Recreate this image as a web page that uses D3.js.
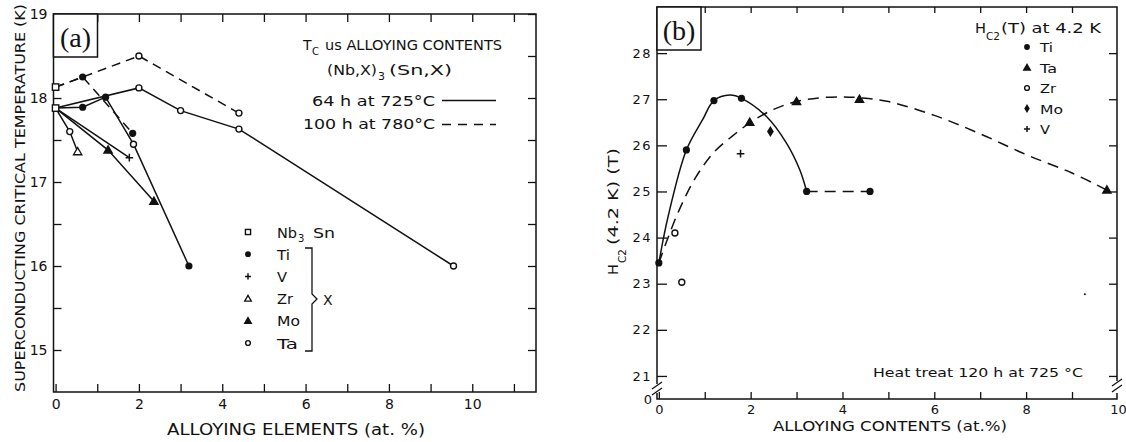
<!DOCTYPE html>
<html><head><meta charset="utf-8">
<script src="https://cdn.jsdelivr.net/npm/d3@7"></script>
<style>
html,body{margin:0;padding:0;background:#fff;}
svg{display:block;}
text{font-family:"DejaVu Sans",sans-serif;fill:#111;}
</style></head><body>
<svg id="fig" width="1126" height="442"></svg>
<script>
// ---------------- Panel (a): Tc vs alloying content ----------------
// Nb3Sn reference points (64 h / 725 C and 100 h / 780 C)
const aNb3SnX = [0, 0];
const aNb3SnY = [17.88, 18.13];

// 64 h at 725 C (solid)
const aTaSolidX = [0, 2.0, 3.0, 4.4, 9.55];
const aTaSolidY = [17.88, 18.12, 17.85, 17.63, 16.0];
const aTaSolidMk = ["none", "ring", "ring", "ring", "ring"];

const aTiSolidX = [0, 0.65, 1.2, 1.87, 3.2];
const aTiSolidY = [17.88, 17.89, 18.01, 17.45, 16.0];
const aTiSolidMk = ["none", "dot", "dot", "ring", "dot"];

const aVSolidX = [0, 1.77];
const aVSolidY = [17.88, 17.29];
const aVSolidMk = ["none", "plus"];

const aMoSolidX = [0, 1.26, 2.36];
const aMoSolidY = [17.88, 17.38, 16.77];
const aMoSolidMk = ["none", "tri", "tri"];

const aZrSolidX = [0, 0.34, 0.53];
const aZrSolidY = [17.88, 17.6, 17.36];
const aZrSolidMk = ["none", "ring", "otri"];

// 100 h at 780 C (dashed)
const aTaDashX = [0, 2.0, 4.4];
const aTaDashY = [18.13, 18.5, 17.82];
const aTaDashMk = ["none", "ring", "ring"];

const aTiDashX = [0, 0.65, 1.85];
const aTiDashY = [18.13, 18.25, 17.58];
const aTiDashMk = ["none", "dot", "dot"];

const aXTicks = [0, 1, 2, 3, 4, 5, 6, 7, 8, 9, 10, 11];
const aXLabels = [0, 2, 4, 6, 8, 10];
const aYTicks = [15, 15.5, 16, 16.5, 17, 17.5, 18, 18.5, 19];
const aYLabels = [15, 16, 17, 18, 19];

const aLegendNames = ["Nb3Sn", "Ti", "V", "Zr", "Mo", "Ta"];
const aLegendMk = ["square", "dot", "plus", "otri", "tri", "ring"];

// ---------------- Panel (b): Hc2 at 4.2 K ----------------
const bTiX = [0, 0.6, 1.2, 1.8, 3.22, 4.6];
const bTiY = [23.45, 25.9, 26.97, 27.02, 25.0, 25.0];
const bTaX = [1.98, 3.0, 4.37, 9.76];
const bTaY = [26.5, 26.95, 27.0, 25.03];
const bZrX = [0.35, 0.5];
const bZrY = [24.1, 23.03];
const bMoX = [2.43];
const bMoY = [26.3];
const bVX = [1.78];
const bVY = [25.82];
const bSpeckX = [9.28];
const bSpeckY = [22.77];

// hand-drawn trend curves
const bTiCurveX = [0, 0.2, 0.6, 0.95, 1.2, 1.55, 1.8, 2.35, 2.78, 3.07, 3.22];
const bTiCurveY = [23.45, 24.45, 25.9, 26.55, 26.97, 27.09, 27.02, 26.62, 26.05, 25.47, 25.0];
const bTiTailX = [3.22, 4.6];
const bTiTailY = [25.0, 25.0];
const bTaCurveX = [0, 0.4, 0.8, 1.2, 1.6, 2.0, 2.5, 3.0, 3.5, 4.0, 4.4, 5.0, 6.0, 7.0, 8.0, 9.0, 9.76];
const bTaCurveY = [23.45, 24.5, 25.3, 25.85, 26.2, 26.5, 26.78, 26.95, 27.03, 27.05, 27.03, 26.95, 26.65, 26.25, 25.8, 25.4, 25.03];

const bXTicks = [0, 1, 2, 3, 4, 5, 6, 7, 8, 9];
const bXLabels = [0, 2, 4, 6, 8, 10];
const bYTicks = [21, 22, 23, 24, 25, 26, 27, 28];

const bLegendNames = ["Ti", "Ta", "Zr", "Mo", "V"];
const bLegendMk = ["dot", "tri", "ring", "diamond", "plus"];

// ---------------- drawing ----------------
const svg = d3.select("#fig");
const INK = "#111";

function marker(g, type, cx, cy, s) {
  s = s || 1;
  if (type === "none") return;
  if (type === "dot") {
    g.append("circle").attr("cx", cx).attr("cy", cy).attr("r", 3.6 * s).attr("fill", INK);
  } else if (type === "ring") {
    g.append("circle").attr("cx", cx).attr("cy", cy).attr("r", 3.0 * s)
      .attr("fill", "#fff").attr("stroke", INK).attr("stroke-width", 1.4);
  } else if (type === "square") {
    const h = 3.2 * s;
    g.append("rect").attr("x", cx - h).attr("y", cy - h).attr("width", 2 * h).attr("height", 2 * h)
      .attr("fill", "#fff").attr("stroke", INK).attr("stroke-width", 1.4);
  } else if (type === "plus") {
    const h = 3.8 * s;
    g.append("path").attr("d", `M${cx - h},${cy}H${cx + h}M${cx},${cy - h}V${cy + h}`)
      .attr("stroke", INK).attr("stroke-width", 1.5);
  } else if (type === "tri" || type === "otri") {
    g.append("path").attr("transform", `translate(${cx},${cy + 0.6})`)
      .attr("d", d3.symbol(d3.symbolTriangle, 30 * s * s)())
      .attr("fill", type === "tri" ? INK : "#fff").attr("stroke", INK).attr("stroke-width", 1.3);
  } else if (type === "diamond") {
    const w = 3.4 * s, h = 5.5 * s;
    g.append("path").attr("d", `M${cx},${cy - h}L${cx + w},${cy}L${cx},${cy + h}L${cx - w},${cy}Z`).attr("fill", INK);
  }
}

function series(g, xs, ys, sx, sy, dash, curve) {
  const pts = xs.map((x, i) => [x, ys[i]]);
  const line = d3.line().x(d => sx(d[0])).y(d => sy(d[1])).curve(curve || d3.curveLinear);
  g.append("path").attr("d", line(pts)).attr("fill", "none").attr("stroke", INK)
    .attr("stroke-width", 1.5).attr("stroke-dasharray", dash || null);
}

function marks(g, xs, ys, mk, sx, sy) {
  xs.forEach((x, i) => marker(g, Array.isArray(mk) ? mk[i] : mk, sx(x), sy(ys[i])));
}

function styleAxis(g) {
  g.select(".domain").remove();
  g.selectAll(".tick line").attr("stroke", INK).attr("stroke-width", 1.3);
  g.selectAll(".tick text").attr("fill", INK).style("font-family", '"DejaVu Sans",sans-serif');
}

// fixed-width text helper
function label(g, x, y, str, size, width, anchor) {
  const t = g.append("text").attr("x", x).attr("y", y).style("font-size", size + "px").text(str);
  if (width) t.attr("textLength", width).attr("lengthAdjust", "spacingAndGlyphs");
  if (anchor) t.attr("text-anchor", anchor);
  return t;
}

// ---- Panel (a) ----
const xA = d3.scaleLinear().domain([-0.05, 11.53]).range([53.5, 536]);
const yA = d3.scaleLinear().domain([14.5, 19]).range([392, 14]);
const gA = svg.append("g");

gA.append("rect").attr("x", 53.5).attr("y", 14).attr("width", 536 - 53.5).attr("height", 392 - 14)
  .attr("fill", "none").attr("stroke", INK).attr("stroke-width", 1.5);

gA.append("g").attr("transform", "translate(53.5,0)")
  .call(d3.axisLeft(yA).tickValues(aYTicks).tickSizeInner(-8).tickSizeOuter(0).tickPadding(6)
    .tickFormat(d => aYLabels.includes(d) ? d : ""))
  .call(styleAxis).selectAll("text").style("font-size", "14px");
gA.append("g").attr("transform", "translate(536,0)")
  .call(d3.axisRight(yA).tickValues(aYTicks).tickSizeInner(-8).tickSizeOuter(0).tickFormat(""))
  .call(styleAxis);
gA.append("g").attr("transform", "translate(0,392)")
  .call(d3.axisBottom(xA).tickValues(aXTicks).tickSizeInner(-8).tickSizeOuter(0).tickPadding(7)
    .tickFormat(d => aXLabels.includes(d) ? d : ""))
  .call(styleAxis).selectAll("text").style("font-size", "14px");
gA.append("g").attr("transform", "translate(0,14)")
  .call(d3.axisTop(xA).tickValues(aXTicks.slice(1)).tickSizeInner(-8).tickSizeOuter(0).tickFormat(""))
  .call(styleAxis);

series(gA, aTaSolidX, aTaSolidY, xA, yA);
series(gA, aTiSolidX, aTiSolidY, xA, yA);
series(gA, aVSolidX, aVSolidY, xA, yA);
series(gA, aMoSolidX, aMoSolidY, xA, yA);
series(gA, aZrSolidX, aZrSolidY, xA, yA);
series(gA, aTaDashX, aTaDashY, xA, yA, "9,6");
series(gA, aTiDashX, aTiDashY, xA, yA, "9,6");

marks(gA, aTaSolidX, aTaSolidY, aTaSolidMk, xA, yA);
marks(gA, aTiSolidX, aTiSolidY, aTiSolidMk, xA, yA);
marks(gA, aVSolidX, aVSolidY, aVSolidMk, xA, yA);
marks(gA, aMoSolidX, aMoSolidY, aMoSolidMk, xA, yA);
marks(gA, aZrSolidX, aZrSolidY, aZrSolidMk, xA, yA);
marks(gA, aTaDashX, aTaDashY, aTaDashMk, xA, yA);
marks(gA, aTiDashX, aTiDashY, aTiDashMk, xA, yA);
marks(gA, aNb3SnX, aNb3SnY, "square", xA, yA);

// panel tag
gA.append("rect").attr("x", 53.5).attr("y", 14).attr("width", 44).attr("height", 43)
  .attr("fill", "#fff").attr("stroke", INK).attr("stroke-width", 1.5);
gA.append("text").attr("x", 75.5).attr("y", 47).attr("text-anchor", "middle")
  .style("font-family", '"Liberation Serif",serif').style("font-size", "28px").text("(a)");

// axis titles
gA.append("text").attr("transform", "translate(25,198) rotate(-90)").attr("text-anchor", "middle")
  .style("font-size", "14px").attr("textLength", 388).attr("lengthAdjust", "spacingAndGlyphs")
  .text("SUPERCONDUCTING CRITICAL TEMPERATURE (K)");
label(gA, 296, 435, "ALLOYING ELEMENTS (at. %)", 15, 258, "middle");

// heading block
label(gA, 303, 50, "T", 14);
label(gA, 312, 55, "C", 10);
label(gA, 325, 50, "us ALLOYING CONTENTS", 14, 177);
label(gA, 327, 75, "(Nb,X)", 14, 50);
label(gA, 378, 80, "3", 11);
label(gA, 389, 75, "(Sn,X)", 14, 63);

label(gA, 312, 106, "64 h at 725°C", 14, 123);
label(gA, 303, 129, "100 h at 780°C", 14, 132);
gA.append("path").attr("d", "M442,100.5H496").attr("stroke", INK).attr("stroke-width", 1.5);
gA.append("path").attr("d", "M442,124.5H496").attr("stroke", INK).attr("stroke-width", 1.5).attr("stroke-dasharray", "9,7");

// symbol key
const aRowY = d3.scalePoint().domain(aLegendNames).range([232, 343]);
const aKeyW = {Ti: 13, V: 10, Zr: 16, Mo: 23, Ta: 21};
aLegendNames.forEach((n, i) => {
  const y = aRowY(n);
  marker(gA, aLegendMk[i], 248, y, 0.8);
  if (n === "Nb3Sn") {
    label(gA, 277, y + 5.5, "Nb", 14, 20);
    label(gA, 298, y + 9.5, "3", 10);
    label(gA, 313, y + 5.5, "Sn", 14, 22);
  } else {
    label(gA, 277, y + 5.5, n, 14, aKeyW[n]);
  }
});
gA.append("path").attr("d", "M305,248H312V294L317,299L312,304V351H305")
  .attr("fill", "none").attr("stroke", INK).attr("stroke-width", 1.3);
label(gA, 323, 305, "X", 14);

// ---- Panel (b) ----
const xB = d3.scaleLinear().domain([-0.04, 9.98]).range([657, 1117]);
const yB = d3.scaleLinear().domain([20.5, 29]).range([399, 7]);
const gB = svg.append("g");

// frame with broken lower corners
gB.append("path").attr("d", "M657,384V7H1117V381").attr("fill", "none").attr("stroke", INK).attr("stroke-width", 1.5);
gB.append("path").attr("d", "M657,393V399H1117V393").attr("fill", "none").attr("stroke", INK).attr("stroke-width", 1.5);
gB.append("path").attr("d", "M652,389L662,382M652,395L662,388M1112,386L1122,379M1112,392L1122,385")
  .attr("stroke", INK).attr("stroke-width", 1.3);

gB.append("g").attr("transform", "translate(657,0)")
  .call(d3.axisLeft(yB).tickValues(bYTicks).tickSizeInner(-10).tickSizeOuter(0).tickPadding(5))
  .call(styleAxis).selectAll("text").style("font-size", "13px").style("letter-spacing", "1.5px");
gB.append("g").attr("transform", "translate(1117,0)")
  .call(d3.axisRight(yB).tickValues(bYTicks).tickSizeInner(-8).tickSizeOuter(0).tickFormat(""))
  .call(styleAxis);
gB.append("g").attr("transform", "translate(0,399)")
  .call(d3.axisBottom(xB).tickValues(bXTicks).tickSizeInner(-7).tickSizeOuter(0).tickPadding(6)
    .tickFormat(d => bXLabels.includes(d) ? d : ""))
  .call(styleAxis).selectAll("text").style("font-size", "13px");
gB.append("g").attr("transform", "translate(0,399)")
  .call(d3.axisBottom(xB).tickValues([10]).tickSize(0).tickPadding(6))
  .call(styleAxis).selectAll("text").style("font-size", "13px");
gB.append("g").attr("transform", "translate(0,7)")
  .call(d3.axisTop(xB).tickValues(bXTicks.slice(1)).tickSizeInner(-6).tickSizeOuter(0).tickFormat(""))
  .call(styleAxis);
label(gB, 648, 404, "0", 13, null, "middle");

series(gB, bTiCurveX, bTiCurveY, xB, yB, null, d3.curveCatmullRom);
series(gB, bTiTailX, bTiTailY, xB, yB, "11,7");
series(gB, bTaCurveX, bTaCurveY, xB, yB, "11,7", d3.curveCatmullRom);

marks(gB, bTiX, bTiY, "dot", xB, yB);
marks(gB, bTaX, bTaY, "tri", xB, yB);
marks(gB, bZrX, bZrY, "ring", xB, yB);
marks(gB, bMoX, bMoY, "diamond", xB, yB);
marks(gB, bVX, bVY, "plus", xB, yB);
bSpeckX.forEach((x, i) => gB.append("circle").attr("cx", xB(x)).attr("cy", yB(bSpeckY[i])).attr("r", 1).attr("fill", INK));

// panel tag
gB.append("rect").attr("x", 657).attr("y", 7).attr("width", 44).attr("height", 43)
  .attr("fill", "#fff").attr("stroke", INK).attr("stroke-width", 1.5);
gB.append("text").attr("x", 679).attr("y", 40).attr("text-anchor", "middle")
  .style("font-family", '"Liberation Serif",serif').style("font-size", "28px").text("(b)");

// axis titles
const yl = gB.append("g").attr("transform", "translate(618,212) rotate(-90)");
label(yl, -63, 0, "H", 14, 11);
label(yl, -51, 8, "C2", 11, 14);
label(yl, -33, 0, "(4.2 K) (T)", 14, 97);
label(gB, 890, 431, "ALLOYING CONTENTS (at.%)", 14, 234, "middle");
label(gB, 873, 377, "Heat treat 120 h at 725 °C", 13, 210);

// key
label(gB, 975, 33, "H", 14, 11);
label(gB, 986, 40, "C2", 11, 14);
label(gB, 1001, 33, "(T) at 4.2 K", 14, 100);
const bRowY = d3.scalePoint().domain(bLegendNames).range([47, 129]);
const bKeyW = {Ti: 13, Ta: 17, Zr: 16, Mo: 23, V: 10};
bLegendNames.forEach((n, i) => {
  const y = bRowY(n);
  marker(gB, bLegendMk[i], 1027, y, 0.8);
  label(gB, 1040, y + 5, n, 13, bKeyW[n]);
});
</script>
</body></html>
